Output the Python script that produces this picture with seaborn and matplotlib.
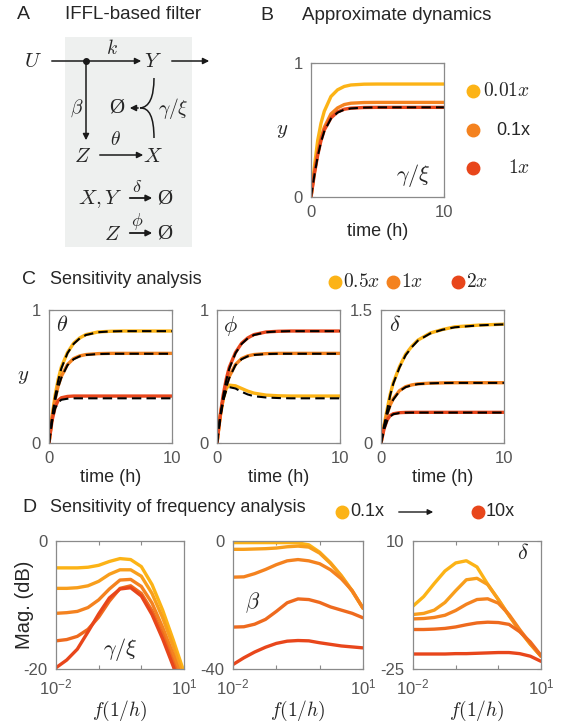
import numpy as np
import pandas as pd
import seaborn as sns
import matplotlib
matplotlib.use("Agg")
import matplotlib.pyplot as plt
from matplotlib.path import Path
from matplotlib.patches import PathPatch, Rectangle

# ---------------- data ----------------
t_hours = [0, 0.25, 0.5, 0.75, 1, 1.5, 2, 2.5, 3, 4, 5, 6, 8, 10]

# Panel B (gamma/xi scaling)
B_001x = [0, 0.22, 0.42, 0.55, 0.64, 0.75, 0.80, 0.825, 0.836, 0.842, 0.843, 0.843, 0.843, 0.843]
B_01x = [0, 0.18, 0.33, 0.44, 0.52, 0.62, 0.665, 0.69, 0.70, 0.705, 0.706, 0.706, 0.706, 0.706]
B_1x = [0, 0.17, 0.31, 0.42, 0.50, 0.59, 0.635, 0.655, 0.663, 0.668, 0.669, 0.669, 0.669, 0.669]
B_approx = [0, 0.16, 0.30, 0.41, 0.49, 0.585, 0.63, 0.652, 0.661, 0.667, 0.669, 0.669, 0.669, 0.669]
B_labels = ["$0.01x$", "0.1x", "$1x$"]

# Panel C: theta
C_theta_05 = [0, 0.20, 0.36, 0.48, 0.57, 0.68, 0.75, 0.79, 0.815, 0.835, 0.84, 0.842, 0.842, 0.842]
C_theta_1 = [0, 0.19, 0.33, 0.43, 0.50, 0.59, 0.635, 0.655, 0.665, 0.672, 0.674, 0.674, 0.674, 0.674]
C_theta_2 = [0, 0.17, 0.27, 0.32, 0.34, 0.35, 0.353, 0.353, 0.353, 0.353, 0.353, 0.353, 0.353, 0.353]
C_theta_05_ap = [0, 0.19, 0.35, 0.47, 0.56, 0.675, 0.745, 0.787, 0.812, 0.833, 0.839, 0.841, 0.841, 0.841]
C_theta_1_ap = [0, 0.18, 0.32, 0.42, 0.49, 0.585, 0.63, 0.652, 0.662, 0.669, 0.671, 0.671, 0.671, 0.671]
C_theta_2_ap = [0, 0.16, 0.26, 0.305, 0.325, 0.333, 0.336, 0.336, 0.336, 0.336, 0.336, 0.336, 0.336, 0.336]

# Panel C: phi
C_phi_05 = [0, 0.20, 0.33, 0.41, 0.435, 0.43, 0.41, 0.39, 0.375, 0.36, 0.355, 0.353, 0.353, 0.353]
C_phi_1 = [0, 0.19, 0.33, 0.43, 0.50, 0.59, 0.635, 0.655, 0.665, 0.672, 0.674, 0.674, 0.674, 0.674]
C_phi_2 = [0, 0.20, 0.36, 0.48, 0.57, 0.68, 0.75, 0.79, 0.815, 0.835, 0.84, 0.842, 0.842, 0.842]
C_phi_05_ap = [0, 0.19, 0.32, 0.395, 0.42, 0.41, 0.385, 0.365, 0.352, 0.342, 0.338, 0.336, 0.336, 0.336]
C_phi_1_ap = [0, 0.18, 0.32, 0.42, 0.49, 0.585, 0.63, 0.652, 0.662, 0.669, 0.671, 0.671, 0.671, 0.671]
C_phi_2_ap = [0, 0.19, 0.35, 0.47, 0.56, 0.675, 0.745, 0.787, 0.812, 0.833, 0.839, 0.841, 0.841, 0.841]

# Panel C: delta (y up to 1.5)
C_delta_05 = [0, 0.20, 0.38, 0.55, 0.68, 0.86, 1.00, 1.09, 1.16, 1.24, 1.28, 1.31, 1.33, 1.34]
C_delta_1 = [0, 0.19, 0.33, 0.43, 0.50, 0.59, 0.635, 0.655, 0.667, 0.675, 0.678, 0.68, 0.68, 0.68]
C_delta_2 = [0, 0.16, 0.26, 0.31, 0.33, 0.342, 0.345, 0.346, 0.346, 0.346, 0.346, 0.346, 0.346, 0.346]
C_delta_05_ap = [0, 0.19, 0.37, 0.54, 0.67, 0.85, 0.99, 1.08, 1.155, 1.235, 1.278, 1.305, 1.327, 1.338]
C_delta_1_ap = [0, 0.18, 0.32, 0.42, 0.49, 0.585, 0.63, 0.652, 0.664, 0.673, 0.677, 0.678, 0.678, 0.678]
C_delta_2_ap = [0, 0.15, 0.25, 0.30, 0.325, 0.338, 0.342, 0.343, 0.343, 0.343, 0.343, 0.343, 0.343, 0.343]
C_labels = ["$0.5x$", "$1x$", "$2x$"]

# Panel D: frequency responses (dB), 0.1x -> 10x
freq = [0.01, 0.0178, 0.0316, 0.0562, 0.1, 0.178, 0.316, 0.562, 1.0, 1.78, 3.16, 5.62, 10.0]
D_gx = [
    [-4.2, -4.2, -4.2, -4.1, -3.8, -3.2, -2.75, -2.9, -4.0, -6.8, -10.8, -15.5, -20.5],
    [-7.4, -7.4, -7.3, -7.0, -6.3, -5.2, -4.5, -4.5, -5.5, -8.2, -12.0, -16.5, -21.5],
    [-11.3, -11.2, -11.0, -10.4, -9.2, -7.5, -6.1, -6.0, -7.1, -9.7, -13.5, -17.8, -22.5],
    [-15.6, -15.4, -14.9, -13.8, -11.9, -9.4, -7.4, -7.0, -8.2, -10.9, -14.6, -19.0, -23.5],
    [-19.8, -18.6, -16.9, -14.2, -11.4, -8.9, -7.5, -7.3, -8.6, -11.5, -15.3, -19.6, -24.5],
]
D_beta = [
    [-0.5, -0.5, -0.5, -0.5, -0.5, -0.5, -0.6, -1.2, -3.5, -6.8, -10.8, -15.5, -21.0],
    [-2.6, -2.6, -2.5, -2.4, -2.2, -1.8, -1.6, -1.9, -3.8, -7.0, -11.0, -15.7, -21.0],
    [-11.3, -11.2, -10.2, -8.9, -7.4, -6.2, -5.8, -6.2, -7.1, -9.0, -11.8, -15.5, -21.0],
    [-26.9, -26.8, -26.0, -24.5, -22.0, -19.3, -18.1, -18.3, -19.2, -20.6, -21.6, -22.6, -24.0],
    [-38.6, -36.5, -34.7, -33.2, -32.0, -31.3, -31.1, -31.2, -31.8, -32.3, -32.8, -33.1, -33.4],
]
D_delta = [
    [-7.8, -5.2, -1.6, 1.8, 4.0, 4.6, 2.9, -1.8, -6.0, -10.4, -14.5, -18.2, -21.5],
    [-10.1, -9.8, -8.9, -6.8, -3.6, -0.6, -0.2, -1.9, -6.0, -10.4, -14.5, -18.2, -21.5],
    [-11.3, -11.2, -10.9, -10.3, -9.0, -7.3, -6.0, -5.8, -7.0, -10.1, -14.2, -18.0, -21.5],
    [-14.2, -14.2, -14.1, -13.9, -13.5, -12.9, -12.4, -12.2, -12.3, -12.8, -14.8, -17.6, -21.3],
    [-20.9, -20.9, -20.9, -20.9, -20.8, -20.8, -20.7, -20.6, -20.5, -20.5, -20.8, -21.5, -22.9],
]
D_labels = ["0.1x", "10x"]

# ---------------- style ----------------
sns.set_theme(style="white")
plt.rcParams["font.family"] = ["Liberation Sans", "DejaVu Sans"]
plt.rcParams["mathtext.fontset"] = "cm"

YEL = "#FCB316"
ORA = "#F4821F"
RED = "#E8461B"
D_COLS = ["#FCB316", "#F89E1C", "#F4821F", "#EE6A1E", "#E8461B"]
SPINE = "#8a8a8a"
TICKC = "#555555"

W, H = 564, 725
fig = plt.figure(figsize=(W / 100, H / 100), dpi=100)

bg = fig.add_axes([0, 0, 1, 1])
bg.set_xlim(0, W)
bg.set_ylim(H, 0)
bg.axis("off")


def add_ax(x0, x1, y0, y1):
    return fig.add_axes([x0 / W, 1 - y1 / H, (x1 - x0) / W, (y1 - y0) / H])


def style(ax):
    for s in ax.spines.values():
        s.set_visible(True)
        s.set_color(SPINE)
        s.set_linewidth(0.9)
    ax.tick_params(direction="in", length=3, width=0.8, color=SPINE,
                   labelcolor=TICKC, labelsize=12, pad=6,
                   top=True, right=True, bottom=True, left=True)
    ax.grid(False)


LW = 2.4
DASH = dict(color="black", lw=1.5, linestyle=(0, (4.5, 2.5)))


def line(ax, x, y, **kw):
    sns.lineplot(x=x, y=y, ax=ax, estimator=None, sort=False, legend=False, **kw)


# ---------------- panel A ----------------
bg.text(17, 14, "A", fontsize=14, va="center", ha="left")
bg.text(65, 14, "IFFL-based filter", fontsize=13.5, va="center", ha="left")
bg.add_patch(Rectangle((65, 37), 127, 210, facecolor="#eef0ef", edgecolor="none"))
mfs = 15
NULL = dict(fontsize=15, ha="center", va="center", family="Liberation Serif")
bg.text(33, 61, "$U$", fontsize=mfs, ha="center", va="center")
bg.text(153, 61, "$Y$", fontsize=mfs, ha="center", va="center")
bg.text(112, 48, "$k$", fontsize=mfs - 1, ha="center", va="center")
bg.annotate("", xy=(144, 61), xytext=(49, 61),
            arrowprops=dict(arrowstyle="-|>", color="k", lw=1.1, mutation_scale=9))
bg.annotate("", xy=(212, 61), xytext=(169, 61),
            arrowprops=dict(arrowstyle="-|>", color="k", lw=1.1, mutation_scale=9))
bg.plot([86], [61], "o", color="k", ms=4)
bg.annotate("", xy=(86, 143), xytext=(86, 61),
            arrowprops=dict(arrowstyle="-|>", color="k", lw=1.1, mutation_scale=9))
bg.text(77, 108, r"$\beta$", fontsize=mfs - 1, ha="center", va="center")
bg.text(117, 108, "Ø", **NULL)
bg.text(173, 108, r"$\gamma/\xi$", fontsize=mfs - 1, ha="center", va="center")
for yA in (78, 138):
    p = Path([(154, yA), (154, 107), (140, 108)], [Path.MOVETO, Path.CURVE3, Path.CURVE3])
    bg.add_patch(PathPatch(p, facecolor="none", edgecolor="k", lw=1.1))
bg.annotate("", xy=(127, 108), xytext=(141, 108),
            arrowprops=dict(arrowstyle="-|>", color="k", lw=1.1, mutation_scale=9))
bg.text(83, 156, "$Z$", fontsize=mfs, ha="center", va="center")
bg.text(153, 156, "$X$", fontsize=mfs, ha="center", va="center")
bg.text(115, 140, r"$\theta$", fontsize=mfs - 1, ha="center", va="center")
bg.annotate("", xy=(146, 155), xytext=(97, 155),
            arrowprops=dict(arrowstyle="-|>", color="k", lw=1.1, mutation_scale=9))
bg.text(100, 199, "$X,Y$", fontsize=mfs, ha="center", va="center")
bg.text(137, 187, r"$\delta$", fontsize=mfs - 2, ha="center", va="center")
bg.annotate("", xy=(155, 198), xytext=(127, 198),
            arrowprops=dict(arrowstyle="-|>", color="k", lw=1.3, mutation_scale=9))
bg.text(165, 199, "Ø", **NULL)
bg.text(113, 234, "$Z$", fontsize=mfs, ha="center", va="center")
bg.text(137, 221, r"$\phi$", fontsize=mfs - 2, ha="center", va="center")
bg.annotate("", xy=(155, 233), xytext=(127, 233),
            arrowprops=dict(arrowstyle="-|>", color="k", lw=1.3, mutation_scale=9))
bg.text(165, 234, "Ø", **NULL)

# ---------------- panel B ----------------
bg.text(260, 15, "B", fontsize=14, va="center", ha="left")
bg.text(302, 15, "Approximate dynamics", fontsize=13.5, va="center", ha="left")
axB = add_ax(311, 444, 63, 197)
style(axB)
line(axB, t_hours, B_001x, color=YEL, lw=LW)
line(axB, t_hours, B_01x, color=ORA, lw=LW)
line(axB, t_hours, B_1x, color=RED, lw=LW)
line(axB, t_hours, B_approx, **DASH)
axB.set_xlim(0, 10)
axB.set_ylim(0, 1)
axB.set_xticks([0, 10])
axB.set_yticks([0, 1])
axB.set_xlabel("time (h)", fontsize=13, labelpad=2)
axB.set_ylabel("$y$", fontsize=15, rotation=0, labelpad=8, va="center")
axB.text(0.77, 0.16, r"$\gamma/\xi$", transform=axB.transAxes, fontsize=16,
         ha="center", va="center")
for yy, c, lab, fam in zip([91, 130, 168], [YEL, ORA, RED], B_labels, [0, 1, 0]):
    bg.plot([473], [yy], "o", color=c, ms=9)
    bg.text(530, yy, lab, fontsize=14 if fam == 0 else 13, ha="right", va="center")

# ---------------- panel C ----------------
bg.text(22, 279, "C", fontsize=14, va="center", ha="left")
bg.text(50, 279, "Sensitivity analysis", fontsize=13, va="center", ha="left")
for xx, c, lab in zip([335, 393, 458], [YEL, ORA, RED], C_labels):
    bg.plot([xx], [282], "o", color=c, ms=9)
    bg.text(xx + 8, 282, lab, fontsize=14, ha="left", va="center")

C_specs = [
    (49, 172, r"$\theta$", 1.0, [0, 1], [C_theta_05, C_theta_1, C_theta_2],
     [C_theta_05_ap, C_theta_1_ap, C_theta_2_ap]),
    (217, 340, r"$\phi$", 1.0, [0, 1], [C_phi_05, C_phi_1, C_phi_2],
     [C_phi_05_ap, C_phi_1_ap, C_phi_2_ap]),
    (381, 504, r"$\delta$", 1.5, [0, 1.5], [C_delta_05, C_delta_1, C_delta_2],
     [C_delta_05_ap, C_delta_1_ap, C_delta_2_ap]),
]
for i, (x0, x1, sym, ymax, yt, ser, ap) in enumerate(C_specs):
    ax = add_ax(x0, x1, 310, 443)
    style(ax)
    for s, c in zip(ser, [YEL, ORA, RED]):
        line(ax, t_hours, s, color=c, lw=LW)
    for s in ap:
        line(ax, t_hours, s, **DASH)
    ax.set_xlim(0, 10)
    ax.set_ylim(0, ymax)
    ax.set_xticks([0, 10])
    ax.set_yticks(yt)
    ax.set_yticklabels(["0", "1"] if ymax == 1 else ["0", "1.5"])
    ax.set_xlabel("time (h)", fontsize=13, labelpad=2)
    if i == 0:
        ax.set_ylabel("$y$", fontsize=15, rotation=0, labelpad=6, va="center")
    ax.text(0.11, 0.88, sym, transform=ax.transAxes, fontsize=16, ha="center", va="center")

# ---------------- panel D ----------------
bg.text(22, 508, "D", fontsize=14, va="center", ha="left")
bg.text(50, 508, "Sensitivity of frequency analysis", fontsize=13, va="center", ha="left")
bg.plot([342], [512], "o", color=YEL, ms=9)
bg.text(350, 512, D_labels[0], fontsize=13, ha="left", va="center")
bg.annotate("", xy=(436, 512), xytext=(396, 512),
            arrowprops=dict(arrowstyle="-|>", color="k", lw=1.0, mutation_scale=8))
bg.plot([478], [512], "o", color=RED, ms=9)
bg.text(486, 512, D_labels[1], fontsize=13, ha="left", va="center")

D_specs = [
    (56, 184, r"$\gamma/\xi$", (-20, 0), D_gx, (0.5, 0.15)),
    (233, 363, r"$\beta$", (-40, 0), D_beta, (0.15, 0.52)),
    (413, 541, r"$\delta$", (-25, 10), D_delta, (0.86, 0.9)),
]
for i, (x0, x1, sym, ylim, ser, pos) in enumerate(D_specs):
    ax = add_ax(x0, x1, 541, 669)
    style(ax)
    for s, c in zip(ser, D_COLS):
        line(ax, freq, s, color=c, lw=LW)
    ax.set_xscale("log")
    ax.set_xlim(0.01, 10)
    ax.set_ylim(*ylim)
    ax.set_xticks([0.01, 0.1, 1, 10])
    ax.set_xticklabels(["$\\mathregular{10^{-2}}$", "", "", "$\\mathregular{10^{1}}$"])
    ax.xaxis.set_minor_locator(matplotlib.ticker.NullLocator())
    ax.set_yticks(list(ylim))
    ax.set_yticklabels([str(v) for v in ylim])
    ax.set_xlabel("$f(1/h)$", fontsize=14, labelpad=1)
    ax.set_ylabel("")
    ax.text(pos[0], pos[1], sym, transform=ax.transAxes, fontsize=16, ha="center", va="center")
bg.text(24, 605, "Mag. (dB)", fontsize=14.5, rotation=90, ha="center", va="center")

fig.savefig("out.png", dpi=100)
